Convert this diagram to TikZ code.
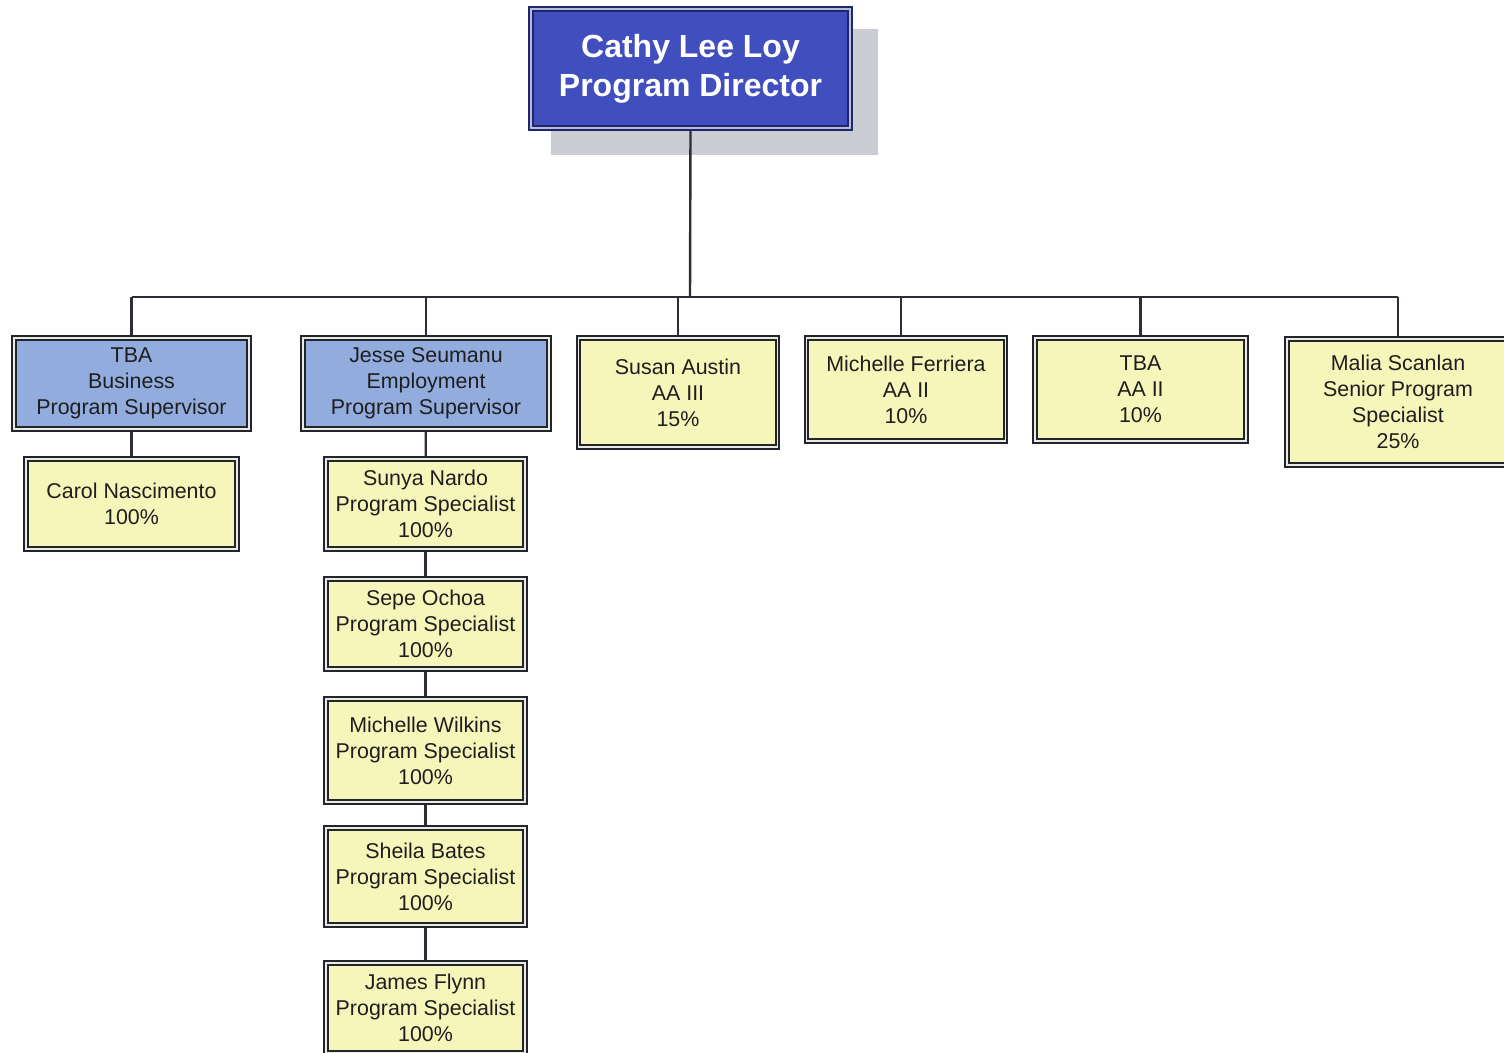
\documentclass[tikz,border=0pt]{standalone}
\usepackage{fontspec}
\setmainfont{Liberation Sans}
\usetikzlibrary{backgrounds}
\definecolor{topfill}{RGB}{64,78,190}
\definecolor{topline}{RGB}{30,38,110}
\definecolor{blufill}{RGB}{146,172,222}
\definecolor{yelfill}{RGB}{246,246,186}
\definecolor{boxline}{RGB}{35,37,45}
\definecolor{gapcol}{RGB}{235,235,228}
\definecolor{shadowcol}{RGB}{202,205,210}
\definecolor{wirecol}{RGB}{45,45,55}
\definecolor{txtcol}{RGB}{30,30,30}
\tikzset{
  box/.style={draw=boxline, double=gapcol, double distance=0.9pt, line width=0.9pt,
    inner sep=0pt, align=center, text=txtcol,
    font=\fontsize{10.7}{13}\selectfont},
  yel/.style={box, fill=yelfill, minimum width=99.5pt},
  blu/.style={box, fill=blufill},
  topbox/.style={draw=topline, double=gapcol!70!topfill, double distance=0.8pt, line width=0.9pt,
    fill=topfill, inner sep=0pt, align=center, text=white,
    font=\fontsize{16}{19.5}\selectfont\bfseries},
  wire/.style={draw=wirecol, line width=1.2pt}
}
\begin{document}
\begin{tikzpicture}[x=0.5pt,y=-0.5pt]
\clip (0,0) rectangle (1504,1053);

\node[topbox, minimum width=159.5pt, minimum height=59.5pt] (top) at (690.5,68.5) {Cathy Lee Loy\\Program Director};

\node[blu, minimum width=117.5pt, minimum height=45.5pt] (biz) at (131.5,383.5) {TBA\\Business\\Program Supervisor};
\node[blu, minimum width=123pt, minimum height=45.5pt] (emp) at (426,383.5) {Jesse Seumanu\\Employment\\Program Supervisor};
\node[yel, minimum height=54.5pt] (susan) at (678,392.5) {Susan Austin\\AA III\\15\%};
\node[yel, minimum height=51.5pt] (mf) at (906,389.5) {Michelle Ferriera\\AA II\\10\%};
\node[yel, minimum width=105.5pt, minimum height=51.5pt] (tba) at (1140.5,389.5) {TBA\\AA II\\10\%};
\node[yel, minimum width=111pt, minimum height=63pt] (malia) at (1398,402) {Malia Scanlan\\Senior Program\\Specialist\\25\%};

\node[yel, minimum width=105.5pt, minimum height=45pt] (carol) at (131.5,504) {Carol Nascimento\\100\%};
\node[yel, minimum height=45pt] (sunya) at (425.5,504) {Sunya Nardo\\Program Specialist\\100\%};
\node[yel, minimum height=45pt] (sepe) at (425.5,624) {Sepe Ochoa\\Program Specialist\\100\%};
\node[yel, minimum height=51.5pt] (wilkins) at (425.5,750.5) {Michelle Wilkins\\Program Specialist\\100\%};
\node[yel, minimum height=48.5pt] (bates) at (425.5,876.5) {Sheila Bates\\Program Specialist\\100\%};
\node[yel, minimum height=45pt] (flynn) at (425.5,1008) {James Flynn\\Program Specialist\\100\%};

\coordinate (bus) at (690,297);
\coordinate (mfdrop) at (901,337);

\begin{scope}[on background layer]
  \fill[white] (0,0) rectangle (1504,1053);
  \fill[shadowcol] (551,29) rectangle (878,155);
  \draw[wire] (top.south) -- (bus);
  \draw[wire] (biz.north |- bus) -- (malia.north |- bus);
  \foreach \n in {biz,emp,susan,tba,malia}
    \draw[wire] (\n.north) -- (\n.north |- bus);
  \draw[wire] (mfdrop) -- (mfdrop |- bus);
  \draw[wire] (biz) -- (carol);
  \draw[wire] (emp) -- (sunya);
  \draw[wire] (sunya) -- (sepe);
  \draw[wire] (sepe) -- (wilkins);
  \draw[wire] (wilkins) -- (bates);
  \draw[wire] (bates) -- (flynn);
\end{scope}
\end{tikzpicture}
\end{document}
